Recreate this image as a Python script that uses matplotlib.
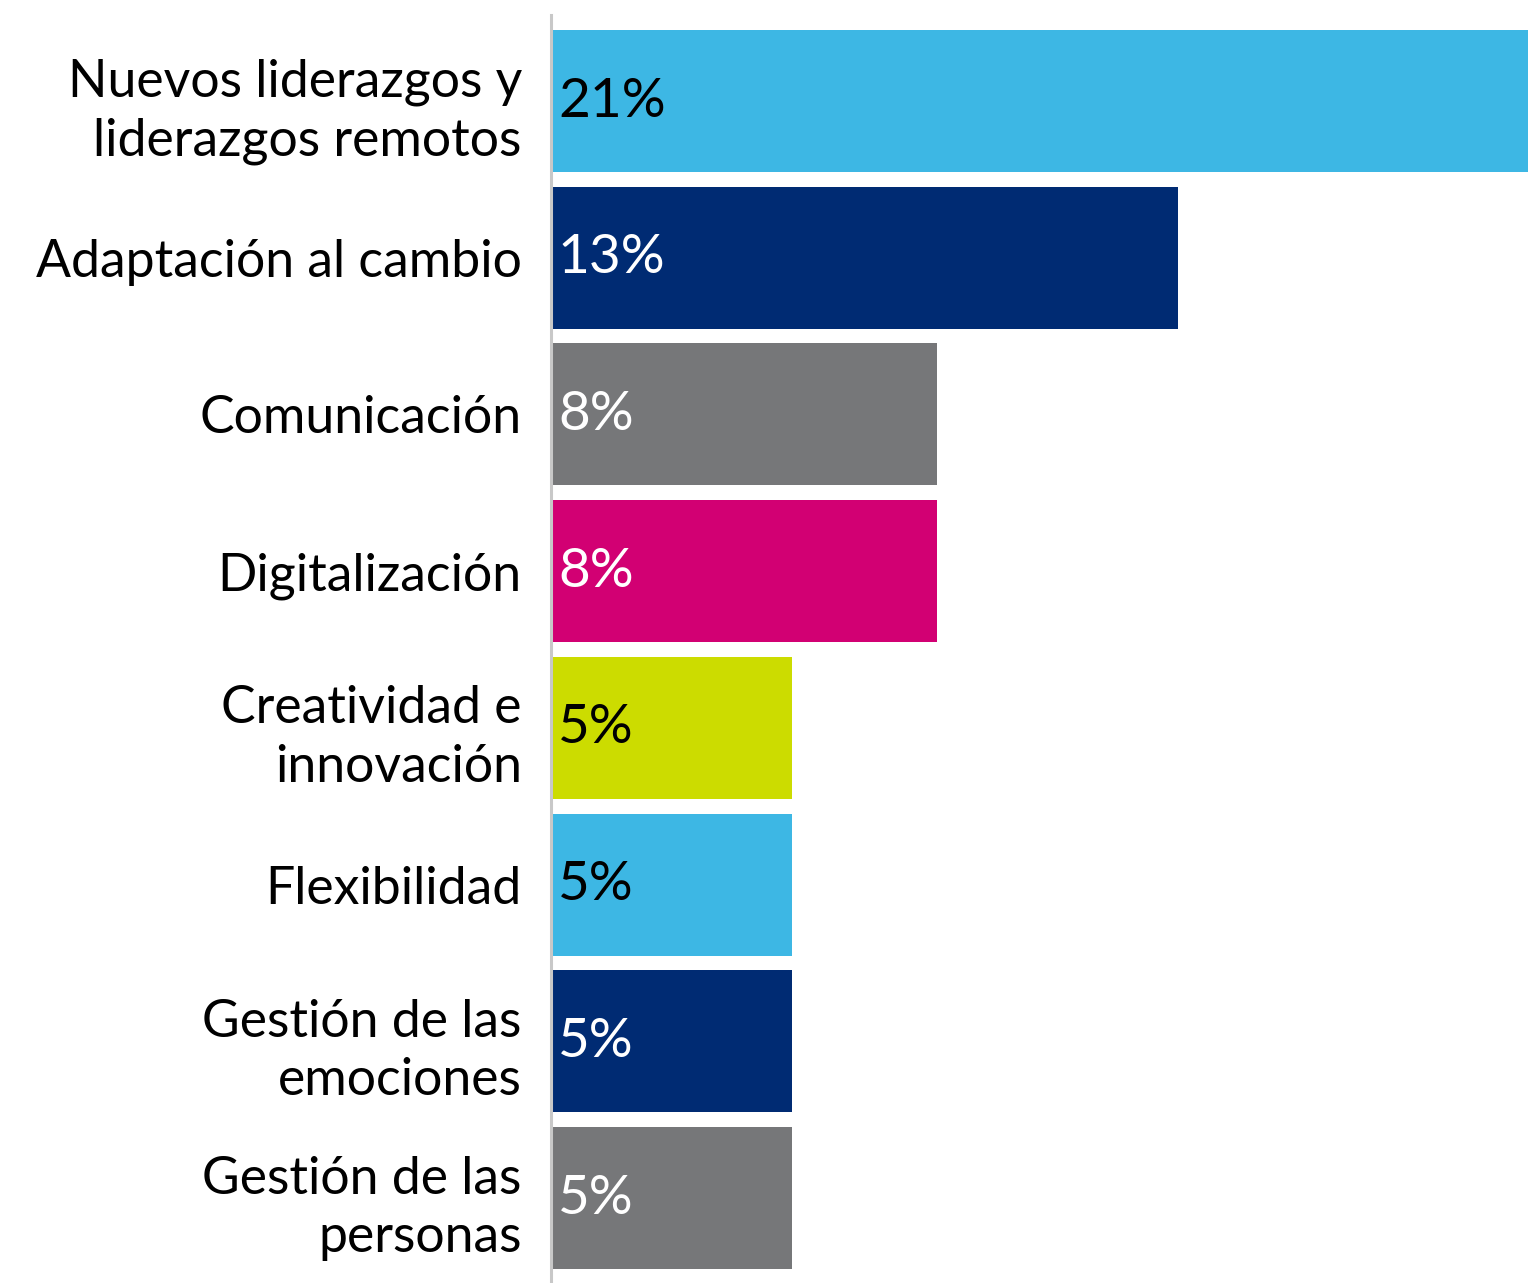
import matplotlib.pyplot as plt
import numpy as np

# Data
categories = [
    "Nuevos liderazgos y\nliderazgos remotos",
    "Adaptación al cambio",
    "Comunicación",
    "Digitalización",
    "Creatividad e\ninnovación",
    "Flexibilidad",
    "Gestión de las\nemociones",
    "Gestión de las\npersonas",
]
values = [21, 13, 8, 8, 5, 5, 5, 5]
bar_colors = ["#3DB7E4", "#002B73", "#767779", "#D20073",
              "#CCDC00", "#3DB7E4", "#002B73", "#767779"]
text_colors = ["black", "white", "white", "white",
               "black", "black", "white", "white"]

plt.rcParams['font.family'] = ['Lato', 'DejaVu Sans']

fig = plt.figure(figsize=(15.28, 12.83), dpi=100)
ax = fig.add_axes([551 / 1528, 0, 1 - 551 / 1528, 1 - 15 / 1283])

y = np.arange(len(categories))
ax.barh(y, values, height=0.906, color=bar_colors)

# Value labels inside the bars
for i, v in enumerate(values):
    ax.annotate(f"{v}%", xy=(0, i), xytext=(5, 0), textcoords="offset points",
                ha="left", va="center", fontsize=39.5, color=text_colors[i])

ax.set_xlim(0, 20.27)
ax.set_ylim(7.542, -0.549)
ax.set_yticks(y)
ax.set_yticklabels(categories, fontsize=37.3, linespacing=1.3)
ax.tick_params(axis="y", length=0, pad=21)
ax.set_xticks([])

for side in ["top", "right", "bottom"]:
    ax.spines[side].set_visible(False)
ax.spines["left"].set_color("#C8C8C8")
ax.spines["left"].set_linewidth(2.2)

fig.savefig("out.png", dpi=100)
